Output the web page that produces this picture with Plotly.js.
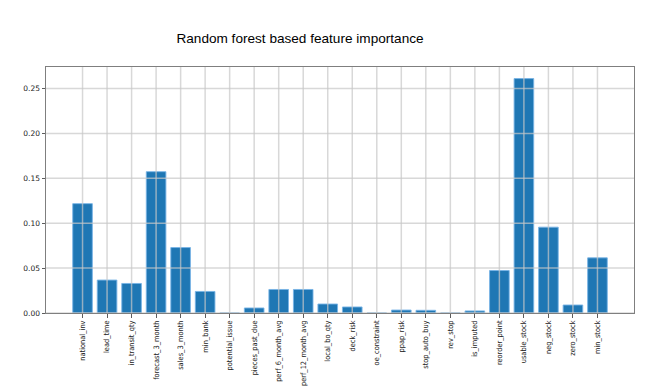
<!DOCTYPE html>
<html>
<head>
<meta charset="utf-8">
<script src="https://cdn.plot.ly/plotly-3.0.1.min.js"></script>
<style>html,body{margin:0;padding:0;background:#fff;}#chart{width:656px;height:389px;}</style>
</head>
<body>
<div id="chart"></div>
<script>
const features = ["national_inv","lead_time","in_transit_qty","forecast_3_month","sales_3_month","min_bank","potential_issue","pieces_past_due","perf_6_month_avg","perf_12_month_avg","local_bo_qty","deck_risk","oe_constraint","ppap_risk","stop_auto_buy","rev_stop","is_imputed","reorder_point","usable_stock","neg_stock","zero_stock","min_stock"];
const importance = [0.1218,0.0367,0.0329,0.1574,0.0729,0.0240,0.0,0.0056,0.0262,0.0262,0.0100,0.0067,0.0,0.0033,0.0030,0.0,0.0023,0.0473,0.2611,0.0956,0.0089,0.0614];
const yTicks = [0,0.05,0.10,0.15,0.20,0.25];
const yTickLabels = ["0.00","0.05","0.10","0.15","0.20","0.25"];

const idx = features.map((_, i) => i);
const gridColor = "rgba(200,200,200,0.7)";
const shapes = [];
idx.forEach(i => shapes.push({type:"line", layer:"above", xref:"x", yref:"paper", x0:i, x1:i, y0:0, y1:1, line:{color:gridColor, width:1.5}}));
yTicks.forEach(v => shapes.push({type:"line", layer:"above", xref:"paper", yref:"y", x0:0, x1:1, y0:v, y1:v, line:{color:gridColor, width:1.5}}));

const trace = {
  type: "bar",
  x: idx,
  y: importance,
  width: 0.8,
  marker: {color: "#1f77b4", line: {color: "rgba(120,180,230,0.9)", width: 1}},
  hoverinfo: "x+y"
};

const layout = {
  width: 656, height: 389,
  margin: {l: 46, r: 22, t: 67, b: 76},
  paper_bgcolor: "#fff", plot_bgcolor: "#fff",
  showlegend: false,
  title: {
    text: "Random forest based feature importance",
    font: {family: "Liberation Sans, Arial, sans-serif", size: 13.6, color: "#000"},
    xref: "container", yref: "container",
    x: 300/656, xanchor: "center",
    y: 1 - 38/389, yanchor: "middle"
  },
  xaxis: {
    range: [-1.49, 22.49],
    tickmode: "array", tickvals: idx, ticktext: features,
    tickangle: -90,
    tickfont: {family: "DejaVu Sans Condensed, Liberation Sans Narrow, sans-serif", size: 7.4, color: "#222"},
    ticks: "outside", ticklen: 3.5, tickcolor: "#333", tickwidth: 0.8,
    showgrid: false, zeroline: false,
    showline: true, linecolor: "#7f7f7f", linewidth: 1, mirror: true
  },
  yaxis: {
    range: [0, 0.274],
    tickmode: "array", tickvals: yTicks, ticktext: yTickLabels,
    tickfont: {family: "DejaVu Sans, sans-serif", size: 7.5, color: "#222"},
    ticks: "outside", ticklen: 3.5, tickcolor: "#333", tickwidth: 0.8,
    showgrid: false, zeroline: false,
    showline: true, linecolor: "#7f7f7f", linewidth: 1, mirror: true
  },
  shapes: shapes,
  bargap: 0.2
};

Plotly.newPlot("chart", [trace], layout, {displayModeBar: false, staticPlot: true});
</script>
</body>
</html>
